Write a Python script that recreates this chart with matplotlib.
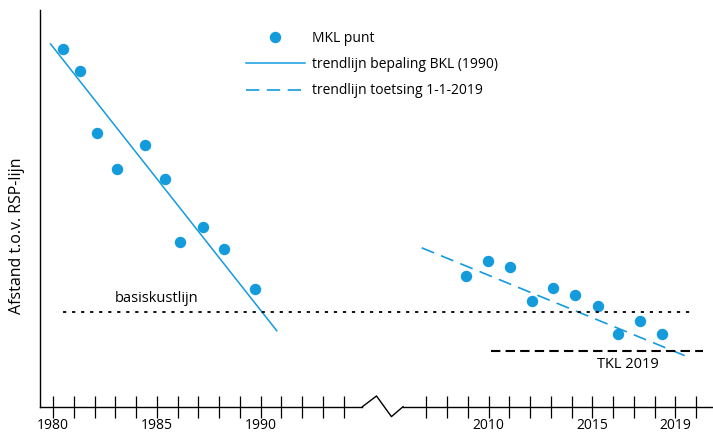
#Recreate the MKL / BKL chart with a broken time axis

#import the libraries
import numpy as np
import matplotlib
matplotlib.use('Agg')
import matplotlib.pyplot as plt
import matplotlib.transforms as mtransforms

plt.rcParams['font.family'] = ['Open Sans', 'DejaVu Sans']

#the data (afstand in arbitrary units, no y ticks in the original)
jaren_oud = [1980.47, 1981.27, 1982.09, 1983.09, 1984.44, 1985.37, 1986.11, 1987.21, 1988.23, 1989.72]
mkl_oud = [358, 336, 274, 238, 262, 228, 165, 180, 158, 118]
jaren_nieuw = [2008.92, 2009.98, 2011.04, 2012.08, 2013.12, 2014.15, 2015.26, 2016.26, 2017.30, 2018.35]
mkl_nieuw = [131, 146, 140, 106, 119, 112, 101, 73, 86, 73]

#trend lines (begin and end)
trend_bkl_x = [1979.87, 1990.78]
trend_bkl_y = [363, 76]
trend_toets_x = [2006.77, 2019.47]
trend_toets_y = [159, 51]

#reference lines
bkl_niveau = 95
bkl_x = [1980.47, 2019.84]
tkl_niveau = 56
tkl_x = [2010.11, 2020.33]

#ticks
ticks_oud = list(range(1980, 1995))
ticks_nieuw = list(range(2007, 2021))
tick_labels = {1980: '1980', 1985: '1985', 1990: '1990', 2010: '2010', 2015: '2015', 2019: '2019'}

blauw = '#139bdc'

#the years after the break are shifted 9 years to the left
def xpos(jaren):
    jaren = np.asarray(jaren, dtype=float)
    return np.where(jaren > 2000, jaren - 9, jaren)

fig = plt.figure(figsize=(7.13, 4.36), dpi=100)
ax = fig.add_axes([40/713, 29.3/436, 673/713, 396.7/436])

#points
ax.plot(xpos(jaren_oud), mkl_oud, 'o', color=blauw, ms=7.2, label='MKL punt')
ax.plot(xpos(jaren_nieuw), mkl_nieuw, 'o', color=blauw, ms=7.2)

#trend lines
l1, = ax.plot(xpos(trend_bkl_x), trend_bkl_y, color=blauw, lw=1.1, label='trendlijn bepaling BKL (1990)')
l2, = ax.plot(xpos(trend_toets_x), trend_toets_y, color=blauw, lw=1.2, dashes=[8, 4.5],
              label='trendlijn toetsing 1-1-2019')

#basiskustlijn and TKL
ax.plot(xpos(bkl_x), [bkl_niveau, bkl_niveau], color='black', lw=1.3, dashes=[1.8, 3.2])
ax.plot(xpos(tkl_x), [tkl_niveau, tkl_niveau], color='black', lw=1.5, dashes=[4.5, 2.5])
ax.text(1984.98, 108, 'basiskustlijn', fontsize=10.5, ha='center', va='center')
ax.text(float(xpos(2016.72)), 42, 'TKL 2019', fontsize=10.5, ha='center', va='center')

ax.set_xlim(1979.36, 2011.82)
ax.set_ylim(0, 397)

#axes look
for s in ['top', 'right', 'bottom']:
    ax.spines[s].set_visible(False)
ax.spines['left'].set_linewidth(1.0)
ax.set_yticks([])

alle_ticks = ticks_oud + ticks_nieuw
ax.set_xticks(xpos(alle_ticks))
ax.set_xticklabels([tick_labels.get(j, '') for j in alle_ticks], fontsize=10)
ax.tick_params(axis='x', direction='inout', length=15.5, width=0.9, pad=0.5)

#bottom axis line with a break symbol
trans = mtransforms.blended_transform_factory(ax.transData, ax.transAxes)
ax.plot([1979.36, 1994.91], [0, 0], color='black', lw=1.0, transform=trans, clip_on=False)
ax.plot([1996.87, 2011.82], [0, 0], color='black', lw=1.0, transform=trans, clip_on=False)
ax.plot([1994.91, 1995.59, 1996.31, 1996.87], [0, 0.027, -0.025, 0], color='black', lw=1.0,
        transform=trans, clip_on=False)

ax.set_ylabel('Afstand t.o.v. RSP-lijn', fontsize=11.5)
ax.yaxis.set_label_coords(-0.022, 0.43)

ax.legend(loc='upper left', bbox_to_anchor=(0.288, 0.978), frameon=False, fontsize=10,
          handlelength=4.2, handletextpad=0.55, labelspacing=0.8, numpoints=1)

plt.savefig('out.png', dpi=100)
